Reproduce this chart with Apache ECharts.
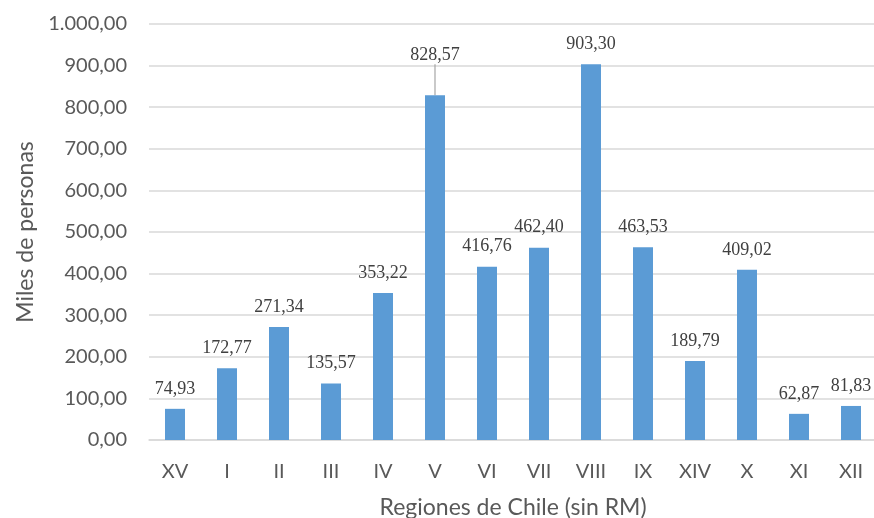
<!DOCTYPE html>
<html>
<head>
<meta charset="utf-8">
<script src="https://cdn.jsdelivr.net/npm/echarts@6/dist/echarts.min.js"></script>
<style>
  html, body { margin: 0; padding: 0; background: #fff; }
  #chart { width: 874px; height: 518px; }
</style>
</head>
<body>
<div id="chart"></div>
<script>
// Regions of Chile (excluding the Metropolitan Region)
const regions = ['XV', 'I', 'II', 'III', 'IV', 'V', 'VI', 'VII', 'VIII', 'IX', 'XIV', 'X', 'XI', 'XII'];
// Thousands of people per region
const people = [74.93, 172.77, 271.34, 135.57, 353.22, 828.57, 416.76, 462.40, 903.30, 463.53, 189.79, 409.02, 62.87, 81.83];
// Label of region V is lifted above the 900 gridline and tied back with a leader line
const liftedLabels = ['V'];

const yMin = 0, yMax = 1000, yStep = 100;

// Spanish number format: 1.000,00
function fmt(v) {
  const parts = v.toFixed(2).split('.');
  parts[0] = parts[0].replace(/\B(?=(\d{3})+(?!\d))/g, '.');
  return parts.join(',');
}

const sans = 'Lato, "Liberation Sans", sans-serif';
const serif = '"Liberation Serif", "DejaVu Serif", serif';

const barData = people.map((v, i) => {
  const item = { value: v };
  if (liftedLabels.indexOf(regions[i]) >= 0) {
    item.labelLine = { show: true, lineStyle: { color: '#a6a6a6', width: 1.2 } };
  }
  return item;
});

const chart = echarts.init(document.getElementById('chart'), null, { renderer: 'canvas' });
chart.setOption({
  animation: false,
  backgroundColor: '#ffffff',
  grid: { left: 149, top: 24, width: 728, height: 416, containLabel: false, outerBoundsMode: 'none' },
  xAxis: {
    type: 'category',
    data: regions,
    name: 'Regiones de Chile (sin RM)',
    nameLocation: 'middle',
    nameGap: 56,
    nameTextStyle: { fontFamily: sans, fontSize: 23, color: '#595959' },
    axisLine: { lineStyle: { color: '#d9d9d9', width: 1.5 } },
    axisTick: { show: false },
    axisLabel: { fontFamily: sans, fontSize: 20, color: '#595959', margin: 22 }
  },
  yAxis: {
    type: 'value',
    min: yMin, max: yMax, interval: yStep,
    name: 'Miles de personas',
    nameLocation: 'middle',
    nameGap: 109,
    nameRotate: 90,
    nameTextStyle: { fontFamily: sans, fontSize: 23, color: '#595959' },
    axisLine: { show: false },
    axisTick: { show: false },
    axisLabel: { fontFamily: sans, fontSize: 20, color: '#595959', margin: 22, formatter: fmt },
    splitLine: { lineStyle: { color: '#d9d9d9', width: 1.5 } }
  },
  series: [{
    type: 'bar',
    data: barData,
    barWidth: 20,
    itemStyle: { color: '#5b9bd5' },
    label: {
      show: true,
      position: 'top',
      distance: 11,
      fontFamily: serif,
      fontSize: 18,
      color: '#404040',
      formatter: p => fmt(p.value)
    },
    labelLine: { show: false },
    labelLayout: function (params) {
      if (liftedLabels.indexOf(regions[params.dataIndex]) >= 0) {
        return { dy: -20 };
      }
      return {};
    }
  }]
});
</script>
</body>
</html>
